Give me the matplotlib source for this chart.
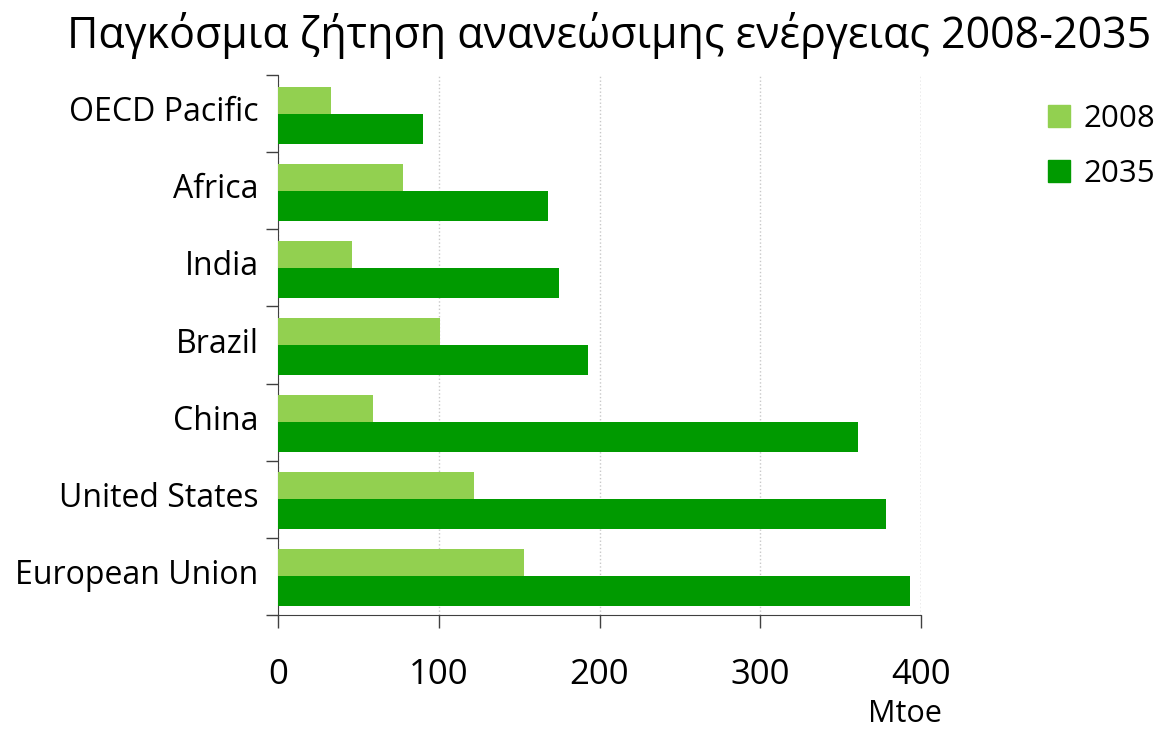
import numpy as np
import matplotlib
matplotlib.use("Agg")
import matplotlib.pyplot as plt
import matplotlib.transforms as mtransforms
from matplotlib.patches import Patch

regions = ["European Union", "United States", "China", "Brazil", "India", "Africa", "OECD Pacific"]
demand_2008 = [153, 122, 59, 101, 46, 78, 33]
demand_2035 = [393, 378, 361, 193, 175, 168, 90]
x_ticks = [0, 100, 200, 300, 400]

plt.rcParams['font.family'] = ['Open Sans', 'DejaVu Sans']

c_light = '#92d050'
c_dark = '#009a00'

fig = plt.figure(figsize=(11.63, 7.31), dpi=100)
ax = fig.add_axes([0.239, 0.159, 0.553, 0.738])

y = np.arange(len(regions))
ax.barh(y, demand_2008, height=0.35, align='edge', color=c_light, zorder=3)
ax.barh(y, demand_2035, height=-0.39, align='edge', color=c_dark, zorder=3)

ax.set_xlim(0, 400)
ax.set_ylim(-0.5, len(regions) - 0.5)

# X axis
ax.set_xticks(x_ticks)
ax.set_xticklabels([str(t) for t in x_ticks])
ax.tick_params(axis='x', length=9, width=1, color='#404040', pad=22, labelsize=25)
ax.grid(axis='x', color='#c8c8c8', linestyle=':', linewidth=1, zorder=0)
ax.axvline(400, color='#c8c8c8', linestyle=':', linewidth=1, zorder=0)

# Y axis: labels at category centres, tick marks at boundaries
ax.set_yticks(y)
ax.set_yticklabels(regions)
ax.set_yticks(np.arange(-0.5, len(regions)), minor=True)
ax.tick_params(axis='y', which='major', length=0, pad=14, labelsize=23)
ax.tick_params(axis='y', which='minor', length=9, width=1, color='#404040')
shift = mtransforms.ScaledTranslation(0, 0.05, fig.dpi_scale_trans)
for lbl in ax.get_yticklabels():
    lbl.set_transform(lbl.get_transform() + shift)

for s in ['top', 'right']:
    ax.spines[s].set_visible(False)
for s in ['left', 'bottom']:
    ax.spines[s].set_color('#404040')

fig.text(0.524, 0.952, 'Παγκόσμια ζήτηση ανανεώσιμης ενέργειας 2008-2035',
         ha='center', va='center', fontsize=31)
fig.text(0.778, 0.044, 'Mtoe', ha='center', va='top', fontsize=22)

handles = [Patch(color=c_light, label='2008'), Patch(color=c_dark, label='2035')]
fig.legend(handles=handles, loc='upper left', bbox_to_anchor=(0.901, 0.858),
           frameon=False, fontsize=22.5, handlelength=0.7, handleheight=0.7,
           handletextpad=0.45, labelspacing=0.8, borderpad=0, borderaxespad=0)

fig.savefig('out.png', dpi=100)
plt.close()
